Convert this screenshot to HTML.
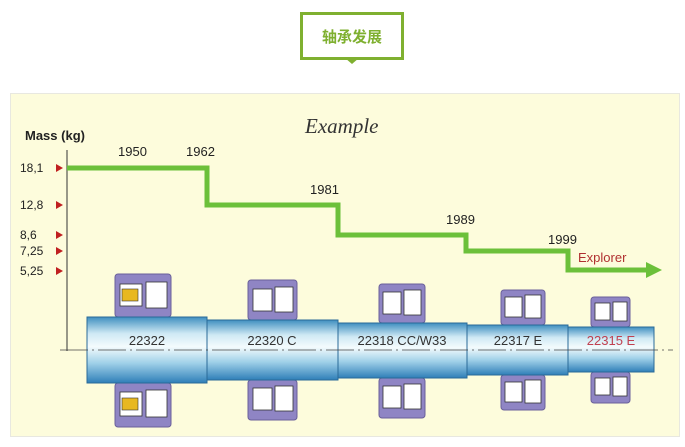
<!DOCTYPE html>
<html><head><meta charset="utf-8"><style>
body{margin:0;background:#fff;width:685px;height:447px;overflow:hidden}
svg{display:block}
</style></head><body>
<svg width="685" height="447" viewBox="0 0 685 447" xmlns="http://www.w3.org/2000/svg">
<defs>
<linearGradient id="sh" x1="0" y1="0" x2="0" y2="1">
<stop offset="0" stop-color="#3f8fc0"/><stop offset="0.25" stop-color="#cfe9f4"/><stop offset="0.45" stop-color="#f4fbfd"/><stop offset="0.7" stop-color="#9fd0e8"/><stop offset="1" stop-color="#2f7fb8"/>
</linearGradient>
</defs>
<rect x="301.5" y="13.5" width="101" height="45" fill="#fff" stroke="#7fb030" stroke-width="3"/>
<polygon points="345,58 359,58 352,64" fill="#7fb030"/>
<text x="352" y="42" text-anchor="middle" font-family="Liberation Sans, Noto Sans CJK SC, sans-serif" font-size="15" font-weight="bold" fill="#7fb030">轴承发展</text>
<rect x="10.5" y="93.5" width="669" height="343" fill="#fdfcdc" stroke="#e8e8e0"/>
<text x="25" y="140" font-family="Liberation Sans, sans-serif" font-size="13" font-weight="bold" fill="#222">Mass (kg)</text>
<text x="305" y="133" font-family="Liberation Serif, serif" font-size="21" font-style="italic" fill="#333">Example</text>
<g font-family="Liberation Sans, sans-serif" font-size="12" fill="#222">
<text x="20" y="172">18,1</text><text x="20" y="209">12,8</text><text x="20" y="239">8,6</text><text x="20" y="255">7,25</text><text x="20" y="275">5,25</text>
<text x="118" y="156" font-size="13">1950</text><text x="186" y="156" font-size="13">1962</text><text x="310" y="194" font-size="13">1981</text><text x="446" y="224" font-size="13">1989</text><text x="548" y="244" font-size="13">1999</text>
</g>
<g fill="#c02020"><polygon points="56,164 63,168 56,172"/><polygon points="56,201 63,205 56,209"/><polygon points="56,231 63,235 56,239"/><polygon points="56,247 63,251 56,255"/><polygon points="56,267 63,271 56,275"/></g>
<line x1="67" y1="150" x2="67" y2="351" stroke="#333" stroke-width="1"/>
<polyline points="67,168 207,168 207,205 338,205 338,235 466,235 466,251 568,251 568,270 648,270" fill="none" stroke="#6cc03a" stroke-width="5"/>
<polygon points="646,262 662,270 646,278" fill="#6cc03a"/>
<text x="578" y="262" font-family="Liberation Sans, sans-serif" font-size="13" fill="#b03030">Explorer</text>
<g fill="#8f85c4" stroke="#6a609a">
<rect x="115" y="274" width="56" height="43" rx="3"/><rect x="115" y="383" width="56" height="44" rx="3"/>
<rect x="248" y="280" width="49" height="40" rx="3"/><rect x="248" y="380" width="49" height="40" rx="3"/>
<rect x="379" y="284" width="46" height="39" rx="3"/><rect x="379" y="378" width="46" height="40" rx="3"/>
<rect x="501" y="290" width="44" height="35" rx="3"/><rect x="501" y="375" width="44" height="35" rx="3"/>
<rect x="591" y="297" width="39" height="30" rx="3"/><rect x="591" y="372" width="39" height="31" rx="3"/>
</g>
<g fill="#fff" stroke="#333" stroke-width="0.8">
<rect x="120" y="284" width="22" height="22"/><rect x="146" y="282" width="21" height="26"/>
<rect x="120" y="392" width="22" height="24"/><rect x="146" y="390" width="21" height="27"/>
<rect x="253" y="289" width="19" height="22"/><rect x="275" y="287" width="18" height="25"/>
<rect x="253" y="388" width="19" height="22"/><rect x="275" y="386" width="18" height="25"/>
<rect x="383" y="292" width="18" height="22"/><rect x="404" y="290" width="17" height="25"/>
<rect x="383" y="386" width="18" height="22"/><rect x="404" y="384" width="17" height="25"/>
<rect x="505" y="297" width="17" height="20"/><rect x="525" y="295" width="16" height="23"/>
<rect x="505" y="382" width="17" height="20"/><rect x="525" y="380" width="16" height="23"/>
<rect x="595" y="303" width="15" height="17"/><rect x="613" y="302" width="14" height="19"/>
<rect x="595" y="378" width="15" height="17"/><rect x="613" y="377" width="14" height="19"/>
</g>
<rect x="122" y="289" width="16" height="12" fill="#e8b820" stroke="#333" stroke-width="0.6"/>
<rect x="122" y="398" width="16" height="12" fill="#e8b820" stroke="#333" stroke-width="0.6"/>
<g fill="url(#sh)" stroke="#2a6a98" stroke-width="1">
<rect x="87" y="317" width="120" height="66"/>
<rect x="207" y="320" width="131" height="60"/>
<rect x="338" y="323" width="129" height="55"/>
<rect x="467" y="325" width="101" height="50"/>
<rect x="568" y="327" width="86" height="45"/>
</g>
<line x1="60" y1="350" x2="673" y2="350" stroke="#444" stroke-width="0.8" stroke-dasharray="28,4,2,4"/>
<g font-family="Liberation Sans, sans-serif" font-size="13" fill="#333" text-anchor="middle">
<text x="147" y="345">22322</text><text x="272" y="345">22320 C</text><text x="402" y="345">22318 CC/W33</text><text x="518" y="345">22317 E</text><text x="611" y="345" fill="#c04050">22315 E</text>
</g>
</svg>
</body></html>
